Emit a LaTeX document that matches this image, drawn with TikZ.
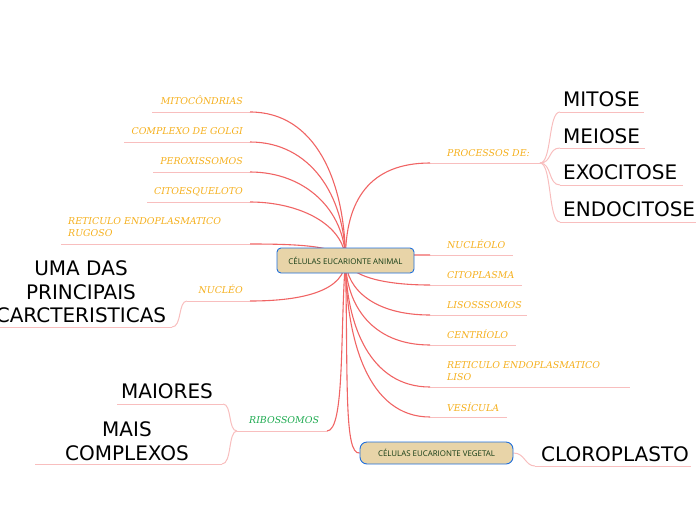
\documentclass[tikz,border=0pt]{standalone}
\usepackage{fontspec}
\newfontfamily\lblfont{DejaVu Serif}
\newfontfamily\bigfont{DejaVu Sans}
\newfontfamily\boxfont{Open Sans}
\definecolor{orng}{RGB}{245,176,30}
\definecolor{grn}{RGB}{30,170,80}
\definecolor{redl}{RGB}{240,100,100}
\definecolor{pinkl}{RGB}{248,190,190}
\definecolor{tan}{RGB}{232,212,168}
\definecolor{bluebd}{RGB}{30,110,220}
\definecolor{boxtxt}{RGB}{20,60,20}
\pgfdeclarelayer{bg}
\pgfsetlayers{bg,main}
\tikzset{
  lbl/.style={font=\lblfont\itshape\fontsize{9.4}{12}\selectfont, text=orng, inner sep=0pt},
  glbl/.style={lbl, text=grn},
  big/.style={font=\bigfont\fontsize{20}{23.5}\selectfont, text=black, inner sep=0pt},
  cellbox/.style={draw=bluebd, fill=tan, line width=0.9pt, rounded corners=4pt, font=\boxfont\fontsize{7.9}{9}\selectfont, text=boxtxt, inner sep=0pt},
  main/.style={draw=redl, line width=1.1pt},
  uline/.style={draw=pinkl, line width=1pt},
  sub/.style={draw=pinkl, line width=1pt}
}
\begin{document}
\begin{tikzpicture}[x=1pt,y=-1pt]
\useasboundingbox (0,0) rectangle (696,520);
% central nodes
\node[cellbox, minimum width=137pt, minimum height=25pt] (root) at (345.5,260.5) {CÉLULAS EUCARIONTE ANIMAL};
\node[cellbox, minimum width=153pt, minimum height=22pt, rounded corners=7pt] (veg) at (436.5,453) {CÉLULAS EUCARIONTE VEGETAL};
% left labels
\node[lbl, anchor=base east] (mit) at (243,104) {MITOCÔNDRIAS};
\node[lbl, anchor=base east] (gol) at (243,134) {COMPLEXO DE GOLGI};
\node[lbl, anchor=base east] (per) at (243,164) {PEROXISSOMOS};
\node[lbl, anchor=base east] (cit) at (243,194) {CITOESQUELOTO};
\node[lbl, anchor=base west, align=left] (rer) at (68,236) {RETICULO ENDOPLASMATICO\\RUGOSO};
\node[lbl, anchor=base east] (nuc) at (243,293) {NUCLÉO};
\node[glbl, anchor=base west] (rib) at (249,423) {RIBOSSOMOS};
% right labels
\node[lbl, anchor=base west] (proc) at (447,156) {PROCESSOS DE:};
\node[lbl, anchor=base west] (nuo) at (447,248) {NUCLÉOLO};
\node[lbl, anchor=base west] (cito) at (447,278) {CITOPLASMA};
\node[lbl, anchor=base west] (lis) at (447,308) {LISOSSSOMOS};
\node[lbl, anchor=base west] (cen) at (447,338) {CENTRÍOLO};
\node[lbl, anchor=base west, align=left] (rel) at (447,380) {RETICULO ENDOPLASMATICO\\LISO};
\node[lbl, anchor=base west] (ves) at (447,411) {VESÍCULA};
% big texts
\node[big, anchor=base west] (mitose) at (563,106) {MITOSE};
\node[big, anchor=base west] (meiose) at (563,143) {MEIOSE};
\node[big, anchor=base west] (exo) at (563,179) {EXOCITOSE};
\node[big, anchor=base west] (endo) at (563,216) {ENDOCITOSE};
\node[big, align=center] (uma) at (81,292) {UMA DAS\\PRINCIPAIS\\CARCTERISTICAS};
\node[big, anchor=base] (mai) at (167,398) {MAIORES};
\node[big, align=center] (mais) at (127,441) {MAIS\\COMPLEXOS};
\node[big, anchor=base west] (clo) at (541,461) {CLOROPLASTO};
% underline coordinates
\coordinate (mitA) at (152,112); \coordinate (mitB) at (250,112);
\coordinate (golA) at (124,142); \coordinate (golB) at (250,142);
\coordinate (perA) at (153,172); \coordinate (perB) at (250,172);
\coordinate (citA) at (147,202); \coordinate (citB) at (250,202);
\coordinate (rerA) at (61,244);  \coordinate (rerB) at (250,244);
\coordinate (nucA) at (187,301); \coordinate (nucB) at (250,301);
\coordinate (umaA) at (0,327);   \coordinate (umaB) at (172,327);
\coordinate (ribA) at (237,431); \coordinate (ribB) at (327,431);
\coordinate (maiA) at (117,404); \coordinate (maiB) at (223,404);
\coordinate (maisA) at (35,464); \coordinate (maisB) at (222,464);
\coordinate (procA) at (430,163); \coordinate (procB) at (540,163);
\coordinate (mitoseA) at (560,112); \coordinate (mitoseB) at (644,112);
\coordinate (meioseA) at (560,148); \coordinate (meioseB) at (645,148);
\coordinate (exoA) at (560,185); \coordinate (exoB) at (683,185);
\coordinate (endoA) at (560,222); \coordinate (endoB) at (696,222);
\coordinate (nuoA) at (430,255); \coordinate (nuoB) at (513,255);
\coordinate (citoA) at (430,285); \coordinate (citoB) at (522,285);
\coordinate (lisA) at (430,315); \coordinate (lisB) at (527,315);
\coordinate (cenA) at (430,345); \coordinate (cenB) at (516,345);
\coordinate (relA) at (430,387); \coordinate (relB) at (630,387);
\coordinate (vesA) at (430,417); \coordinate (vesB) at (507,417);
\coordinate (cloA) at (535,466); \coordinate (cloB) at (691,466);
\begin{pgfonlayer}{bg}
% underlines
\foreach \n in {mit,gol,per,cit,rer,nuc,uma,rib,mai,mais,proc,mitose,meiose,exo,endo,nuo,cito,lis,cen,rel,ves,clo}
  \draw[uline] (\n A) -- (\n B);
% main connectors left
\draw[main] (mitB) .. controls (315,112) and (345,180) .. (root.center);
\draw[main] (golB) .. controls (310,142) and (345,195) .. (root.center);
\draw[main] (perB) .. controls (305,172) and (345,210) .. (root.center);
\draw[main] (citB) .. controls (300,202) and (345,225) .. (root.center);
\draw[main] (rerB) .. controls (300,244) and (340,246) .. (root.center);
\draw[main] (nucB) .. controls (305,301) and (345,290) .. (root.center);
\draw[main] (ribB) .. controls (345,431) and (340,330) .. (root.center);
\draw[main] (root.center) .. controls (348,380) and (344,455) .. (veg.west);
% main connectors right
\draw[main] (root.center) .. controls (345,200) and (370,163) .. (procA);
\draw[main] (root.center) .. controls (360,255) and (400,255) .. (nuoA);
\draw[main] (root.center) .. controls (350,275) and (380,285) .. (citoA);
\draw[main] (root.center) .. controls (347,290) and (375,315) .. (lisA);
\draw[main] (root.center) .. controls (346,305) and (372,345) .. (cenA);
\draw[main] (root.center) .. controls (346,325) and (370,387) .. (relA);
\draw[main] (root.center) .. controls (346,340) and (368,417) .. (vesA);
% sub connectors
\draw[sub] (procB) .. controls (552,163) and (548,112) .. (mitoseA);
\draw[sub] (procB) .. controls (552,163) and (548,148) .. (meioseA);
\draw[sub] (procB) .. controls (552,163) and (548,185) .. (exoA);
\draw[sub] (procB) .. controls (552,163) and (548,222) .. (endoA);
\draw[sub] (nucA) .. controls (178,301) and (182,327) .. (umaB);
\draw[sub] (ribA) .. controls (228,431) and (232,404) .. (maiB);
\draw[sub] (ribA) .. controls (228,431) and (232,464) .. (maisB);
\draw[sub] (veg.east) .. controls (525,453) and (525,466) .. (cloA);
\end{pgfonlayer}
\end{tikzpicture}
\end{document}
